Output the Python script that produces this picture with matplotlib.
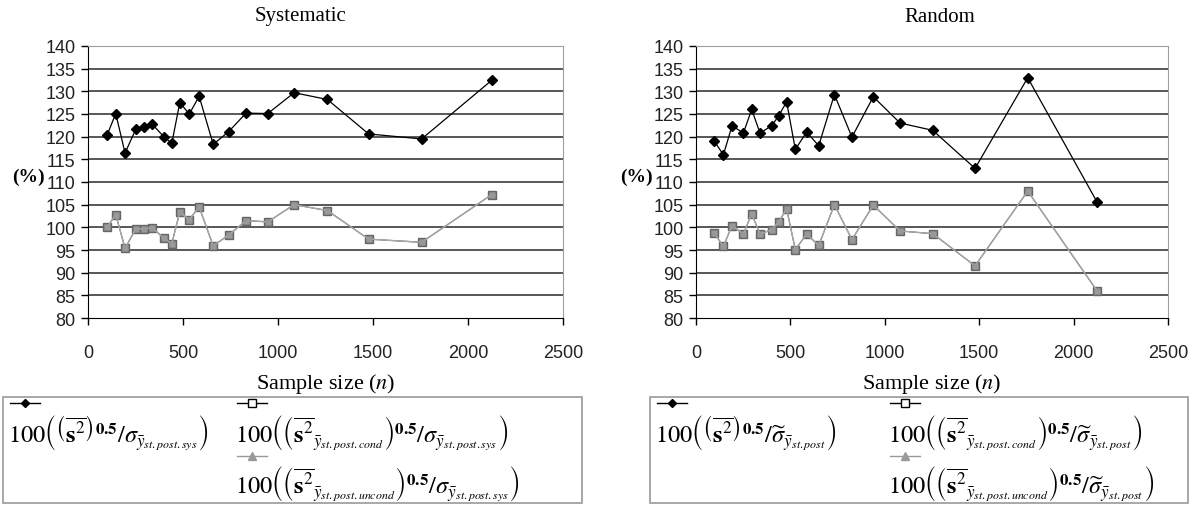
import matplotlib
matplotlib.use('Agg')
import matplotlib.pyplot as plt
from matplotlib.lines import Line2D
from matplotlib.patches import Rectangle

plt.rcParams['mathtext.fontset'] = 'stix'

# Systematic panel
n_sys = [100, 146, 195, 251, 294, 339, 399, 441, 483, 533, 585, 659, 740, 832,
         946, 1085, 1260, 1477, 1756, 2124]
sys_var = [120.3, 125.1, 116.4, 121.6, 122.1, 122.7, 120.0, 118.5, 127.5, 125.0,
           128.9, 118.3, 121.1, 125.2, 125.1, 129.7, 128.2, 120.6, 119.5, 132.4]
sys_cond = [100.0, 102.8, 95.4, 99.6, 99.7, 99.9, 97.6, 96.4, 103.4, 101.7,
            104.5, 95.9, 98.3, 101.5, 101.2, 105.0, 103.7, 97.4, 96.7, 107.2]
sys_uncond = [100.0, 102.8, 95.4, 99.6, 99.7, 99.9, 97.6, 96.4, 103.4, 101.7,
              104.5, 95.9, 98.3, 101.5, 101.2, 105.0, 103.7, 97.4, 96.7, 107.2]

# Random panel
n_rand = [97, 145, 191, 251, 295, 339, 401, 438, 480, 526, 586, 650, 733, 826,
          939, 1081, 1254, 1478, 1757, 2124]
rand_var = [119.0, 116.0, 122.4, 120.8, 126.0, 120.8, 122.4, 124.6, 127.7, 117.2,
            121.0, 118.0, 129.3, 119.9, 128.8, 123.0, 121.4, 113.0, 133.0, 105.6]
rand_cond = [98.7, 95.8, 100.4, 98.5, 103.0, 98.5, 99.5, 101.2, 104.1, 95.1,
             98.5, 96.0, 105.0, 97.3, 104.9, 99.2, 98.6, 91.5, 108.0, 86.0]
rand_uncond = [98.7, 95.8, 100.4, 98.5, 103.0, 98.5, 99.5, 101.2, 104.1, 95.1,
               98.5, 96.0, 105.0, 97.3, 104.9, 99.2, 98.6, 91.5, 108.0, 86.0]

titles = ['Systematic', 'Random']
labels_sys = [
    r'$100\left(\left(\overline{\mathbf{s}^2}\right)^{\mathbf{0.5}}/\sigma_{\bar{y}_{st.post.sys}}\right)$',
    r'$100\left(\left(\overline{\mathbf{s}^2}_{\bar{y}_{st.post.cond}}\right)^{\mathbf{0.5}}/\sigma_{\bar{y}_{st.post.sys}}\right)$',
    r'$100\left(\left(\overline{\mathbf{s}^2}_{\bar{y}_{st.post.uncond}}\right)^{\mathbf{0.5}}/\sigma_{\bar{y}_{st.post.sys}}\right)$',
]
labels_rand = [
    r'$100\left(\left(\overline{\mathbf{s}^2}\right)^{\mathbf{0.5}}/\widetilde{\sigma}_{\bar{y}_{st.post}}\right)$',
    r'$100\left(\left(\overline{\mathbf{s}^2}_{\bar{y}_{st.post.cond}}\right)^{\mathbf{0.5}}/\widetilde{\sigma}_{\bar{y}_{st.post}}\right)$',
    r'$100\left(\left(\overline{\mathbf{s}^2}_{\bar{y}_{st.post.uncond}}\right)^{\mathbf{0.5}}/\widetilde{\sigma}_{\bar{y}_{st.post}}\right)$',
]

W, H = 1193, 506
fig = plt.figure(figsize=(W / 100, H / 100), dpi=100)

tick_font = ['Liberation Sans Narrow', 'Liberation Sans', 'DejaVu Sans']
serif_font = ['Liberation Serif', 'DejaVu Serif']


def fx(px):
    return px / W


def fy(py):
    return 1 - py / H


def draw_panel(left_px, right_px, n, v1, v2, v3, title, title_x):
    ax = fig.add_axes([fx(left_px), fy(319), fx(right_px - left_px), (319 - 47) / H])
    for yv in range(85, 140, 5):
        ax.axhline(yv, color='#2a2a2a', lw=1.1, zorder=1)
    ax.plot(n, v1, color='black', lw=0.9, marker='D', ms=5.5, mfc='black',
            mec='black', zorder=4)
    ax.plot(n, v2, color='#444444', lw=0.8, marker='s', ms=5.5, mfc='#8c8c8c',
            mec='#666666', zorder=3)
    ax.plot(n, v3, color='#a8a8a8', lw=1.0, marker='s', ms=3.5, mfc='#999999',
            mec='#999999', zorder=3.5)
    ax.set_xlim(0, 2500)
    ax.set_ylim(80, 140)
    ax.set_xticks(range(0, 2501, 500))
    ax.set_yticks(range(80, 141, 5))
    for s in ['top', 'right']:
        ax.spines[s].set_color('#a0a0a0')
    for s in ['left', 'bottom']:
        ax.spines[s].set_color('black')
    ax.tick_params(direction='out', length=5, width=1, color='black', pad=4)
    ax.tick_params(axis='x', pad=14)
    for lab in ax.get_xticklabels() + ax.get_yticklabels():
        lab.set_family(tick_font)
        lab.set_fontsize(13)
        lab.set_color('#222222')
    ax.set_xlabel('Sample size ($\\it{n}$)', family=serif_font, fontsize=16,
                  labelpad=7)
    fig.text(fx(left_px - 60), fy(177), '(%)', family=serif_font,
             fontsize=14, fontweight='bold', ha='center', va='center')
    fig.text(fx(title_x), fy(17), title, family=serif_font, fontsize=15,
             ha='center', va='center')
    return ax


def draw_legend(x0, x1, labels, col2):
    fig.add_artist(Rectangle((fx(x0), fy(504)), fx(x1 - x0), (504 - 398) / H,
                             transform=fig.transFigure, fill=False,
                             edgecolor='#999999', lw=1.2))
    spots = [(x0 + 7, 404, 433), (col2, 404, 433), (col2, 457, 484)]
    styles = [dict(color='black', marker='D', ms=4, mfc='black', mec='black'),
              dict(color='black', marker='s', ms=6, mfc='white', mec='black'),
              dict(color='#999999', marker='^', ms=6, mfc='#999999', mec='#999999')]
    for (sx, ly, ty), lab, st in zip(spots, labels, styles):
        fig.add_artist(Line2D([fx(sx), fx(sx + 30)], [fy(ly), fy(ly)],
                              transform=fig.transFigure, lw=1.0, color=st['color']))
        fig.add_artist(Line2D([fx(sx + 15)], [fy(ly)], transform=fig.transFigure,
                              linestyle='none', **st))
        fig.text(fx(sx - 2), fy(ty), lab, fontsize=17.5, ha='left', va='center')


draw_panel(88, 563, n_sys, sys_var, sys_cond, sys_uncond, titles[0], 300)
draw_panel(696, 1168, n_rand, rand_var, rand_cond, rand_uncond, titles[1], 940)
draw_legend(3, 582, labels_sys, 237)
draw_legend(650, 1188, labels_rand, 890)

fig.savefig('out.png', dpi=100)
